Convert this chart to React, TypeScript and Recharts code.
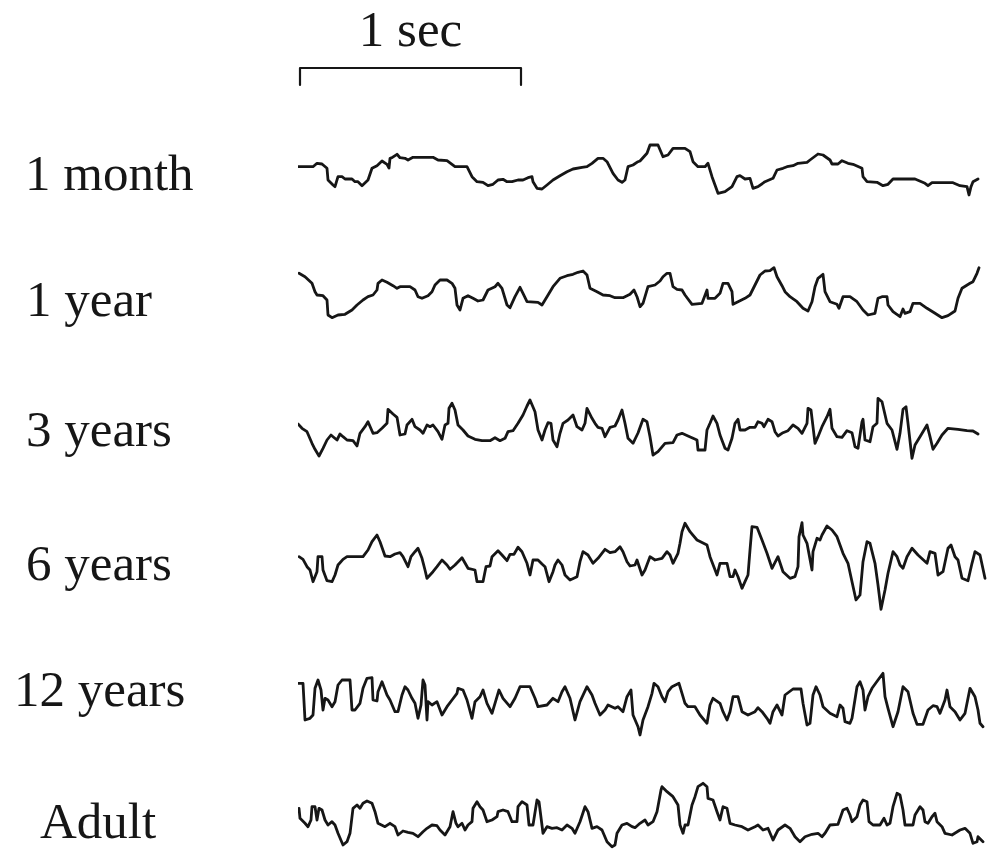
import React from 'react';
import { LineChart, Line, XAxis, YAxis } from 'recharts';

// x in samples (221 samples = 1 s), y in µV-like units, positive up
const SAMPLES_PER_SEC = 221;
const TRACE_SPAN = 689;

type Pt = [number, number];

const month1: Pt[] = [
  [0, 3.3], [15, 3.3], [19, 6.7], [24, 6], [29, 1.7], [30, -10], [35, -15], [37, -16.7], [40, -6.7], [44, -6.7],
  [47, -9], [54, -9], [57, -11.7], [60, -11.7], [64, -15.7], [70, -10], [74, 1.7], [79, 4.3], [84, 9], [89, 5.7],
  [91, 2], [92, 11.7], [94, 12.3], [99, 15.7], [102, 12.3], [107, 11.7], [110, 10], [115, 12.7], [135, 12.7], [140, 10],
  [149, 9.3], [157, 3.3], [169, 3.3], [174, -6.7], [179, -11.7], [185, -12.3], [190, -15.7], [195, -14.3], [200, -10], [205, -9.3],
  [209, -11.7], [214, -11.7], [220, -10], [225, -10], [230, -7.7], [234, -6.7], [235, -11.7], [239, -18.3], [244, -19], [249, -15],
  [255, -10], [262, -5.7], [269, -1.7], [275, 1], [284, 2.7], [289, 3.3], [294, 6.7], [300, 11.7], [305, 11.7], [309, 8.3],
  [315, -3.3], [320, -10], [324, -12.3], [327, -10], [330, 3.3], [335, 5], [340, 8.3], [342, 9], [349, 16.7], [352, 25],
  [360, 25], [365, 13.3], [370, 15], [375, 21.7], [387, 21.7], [392, 18.3], [395, 8.3], [400, 3.3], [407, 3.3], [410, 6.7],
  [414, -6.7], [420, -23.3], [427, -21.7], [434, -16.7], [439, -6.7], [442, -5.7], [447, -9], [452, -8.3], [455, -18.3], [460, -16.7],
  [467, -11.7], [475, -8.3], [479, 0], [485, 1.7], [489, 3.3], [495, 4.3], [500, 6.7], [509, 7.7], [512, 10], [520, 16],
  [525, 15], [532, 10], [534, 6], [540, 6], [544, 9.3], [550, 6.7], [555, 5.7], [564, 1.7], [565, -6.7], [569, -11.7],
  [579, -12.3], [585, -15.7], [590, -14.3], [595, -9], [617, -9], [627, -13.3], [630, -15.7], [634, -12.7], [655, -12.7], [662, -15.7],
  [669, -16.7], [671, -25], [673, -16.7], [675, -11.7], [680, -9],
];

const year1: Pt[] = [
  [1, 18.7], [7, 15.3], [14, 8.7], [17, 0.3], [19, -3], [25, -3.7], [29, -8], [30, -23], [34, -25.7], [40, -23],
  [47, -22.3], [54, -18], [59, -13], [65, -8], [70, -4.7], [75, -3], [79, 2], [80, 8.7], [84, 12], [89, 9.7],
  [95, 6.3], [99, 3.7], [102, 5.3], [112, 5.3], [117, 2], [120, -4.7], [124, -6.3], [130, -3.7], [134, 0.3], [137, 7],
  [142, 12], [149, 12], [154, 8.7], [157, 3.7], [159, -13], [162, -18], [165, -6.3], [170, -3.7], [175, -6.3], [180, -9],
  [185, -8], [190, 2], [197, 5.3], [200, 8.7], [204, 3.7], [209, -13], [212, -15.7], [217, -4.7], [222, 4.7], [225, -1.3],
  [229, -9.7], [240, -10.3], [244, -13], [249, -4.7], [255, 5.3], [262, 13.7], [269, 16.3], [275, 17.7], [280, 19.7], [285, 21],
  [289, 17], [292, 3.7], [299, 0.3], [305, -3], [312, -3.7], [317, -5.7], [325, -5.7], [332, -2.3], [336, 2], [339, -4.7],
  [342, -14.7], [345, -11.3], [350, 5.3], [357, 7], [362, 11], [365, 15.3], [369, 18.7], [372, 18.7], [375, 5.3], [379, 2.7],
  [384, 2], [387, -3], [394, -12.3], [404, -11.3], [409, 2], [410, -6.3], [417, -6.3], [422, -1.3], [425, 8.7], [430, 8.7],
  [434, 0.3], [435, -12.3], [440, -9.7], [447, -6.3], [452, -3], [457, 7], [462, 17], [467, 21], [472, 21.3], [476, 24.3],
  [479, 15.3], [484, 6.3], [487, 0.3], [492, -4.7], [499, -9.7], [505, -16.3], [510, -19], [514, -9.7], [517, 5.3], [520, 13.7],
  [525, 17.7], [527, 0.3], [532, -9.7], [539, -12.3], [541, -16.3], [545, -4.7], [552, -4.7], [559, -9.7], [565, -18], [570, -23],
  [577, -21.3], [580, -6.3], [584, -4.7], [589, -4.7], [590, -13], [595, -19.7], [602, -24.7], [605, -17], [607, -21.3], [612, -19.7],
  [615, -11.3], [622, -11.3], [629, -16.3], [637, -21.3], [644, -25.7], [650, -23.7], [657, -19], [660, -6.3], [664, 3.7], [672, 8.7],
  [675, 10.3], [679, 18.7], [681, 24.3],
];

const years3: Pt[] = [
  [0, 6], [4, 1.7], [9, -1.7], [14, -13.3], [17, -19.3], [21, -26], [25, -18.3], [29, -10], [33, -5], [35, -6.7],
  [39, -10], [42, -4], [45, -6.7], [49, -10], [55, -10.7], [59, -16], [62, -3.3], [67, 3.3], [70, 8.3], [75, -3.3],
  [79, -2.7], [84, 1.7], [89, 6.7], [90, 20.7], [95, 16], [99, 12.7], [102, -5], [107, -4], [109, 5], [114, 10.7],
  [117, 3.3], [122, 0], [125, -3.3], [129, 5], [132, 3.3], [135, 5], [140, -1.7], [144, -9.3], [147, 5], [150, 6.7],
  [151, 21.7], [154, 26.7], [157, 20], [160, 5], [165, 0], [170, -6], [177, -9.3], [184, -10.7], [192, -10.7], [197, -7.7],
  [202, -10.7], [207, -8.3], [210, -1.7], [215, -0.7], [220, 6.7], [225, 15], [229, 24], [232, 30], [237, 18.3], [240, 0],
  [244, -10], [247, 0], [250, 7.3], [253, 6.7], [255, -10], [259, -16.7], [262, -3.3], [265, 6.7], [270, 10], [275, 15],
  [279, 3.3], [284, 0], [287, 6.7], [289, 21.7], [294, 11.7], [297, 6.7], [300, 2.7], [304, 1.7], [307, -6.7], [312, 2.7],
  [317, 4], [320, 10], [324, 20], [327, 6.7], [330, -8.3], [335, -13.3], [340, -3], [345, 10.7], [349, 8.3], [352, -6.7],
  [355, -25], [360, -21.7], [367, -13.3], [375, -12.7], [379, -5], [384, -3.3], [390, -6], [399, -10], [400, -20], [407, -20],
  [409, 0], [412, 6.7], [415, 14], [419, 6.7], [422, -5], [427, -18.3], [430, -20], [434, -8.3], [437, 6.7], [440, 10.7],
  [442, 0], [447, 0], [452, 2.7], [457, 2.7], [460, 8.3], [464, 6.7], [466, 3.3], [470, 10.7], [474, 8.3], [477, -1.7],
  [480, -6], [485, -2.7], [490, -0.7], [495, 5], [500, 1.7], [504, -3.3], [509, 6.7], [510, 21.7], [513, 20], [515, 3.3],
  [517, -13.3], [520, -6.7], [524, 3.3], [529, 13.3], [532, 20.7], [534, 1.7], [539, -6.7], [544, -7.3], [549, -0.7], [554, -2.7],
  [557, -16.7], [560, -18.3], [564, 8.3], [565, 10.7], [567, -10], [572, -11.7], [575, 3.3], [579, 6.7], [580, 31.7], [584, 28.3],
  [589, 6.7], [594, 0], [599, -19.3], [602, -3.3], [605, 20.7], [608, 23.3], [610, 6.7], [614, -28.3], [617, -15], [622, -6.7],
  [629, 5], [632, -6.7], [635, -19.3], [639, -13.3], [644, -5], [650, 1.7], [660, 0.7], [669, -0.7], [675, -1], [680, -4],
];

const years6: Pt[] = [
  [1, 3.3], [5, 0.7], [9, -6.7], [12, -10], [15, -21.7], [19, -11.7], [20, 3.3], [24, 3.3], [25, -10], [29, -20.7],
  [34, -21.7], [37, -15], [40, -5], [45, 0.7], [49, 3.3], [65, 3.3], [70, 10], [74, 18.3], [79, 25], [82, 18.3],
  [87, 4], [92, 3.3], [97, 6], [102, 7.3], [105, 3.3], [110, -6.7], [113, 3.3], [117, 8.3], [120, 11.7], [124, 1.7],
  [127, -10], [129, -18.3], [132, -15], [135, -11.7], [139, -6.7], [144, 0], [149, -5], [152, -9.3], [157, -5], [164, 2.3],
  [170, -8.3], [177, -10], [179, -21.7], [185, -21.7], [188, -6.7], [192, -6], [194, 3.3], [200, 9.3], [204, 5], [209, -0.7],
  [212, 5.7], [216, 5.7], [220, 12.7], [224, 8.3], [229, -3.3], [232, -15], [235, 0], [240, 0], [244, -4], [247, -6.7],
  [251, -21.7], [255, -11.7], [257, -5], [260, 0], [264, -5], [267, -15], [272, -20], [279, -16.7], [282, -1.7], [285, 8.3],
  [290, 5], [295, -3.3], [300, 1.7], [307, 10.7], [312, 7.3], [317, 8.3], [322, 13.3], [325, 8.3], [329, -1.7], [332, -6],
  [337, -5], [339, 0], [344, -15], [347, -10], [352, 3.3], [357, 0], [364, 1.7], [369, 8.3], [372, 5], [375, -3.3],
  [380, 6.7], [382, 16.7], [384, 28.3], [387, 36.7], [392, 28.3], [399, 20], [409, 15], [412, 3.3], [419, -15], [422, -3.3],
  [429, -3.3], [432, -16.7], [435, -16.7], [437, -10], [440, -16.7], [444, -28.3], [447, -21.7], [450, -15], [452, 10], [454, 33.3],
  [459, 32.7], [464, 20], [469, 6.7], [474, -8.3], [480, 3.3], [485, -11.7], [492, -18.3], [497, -16.7], [500, -6.7], [501, 23.3],
  [504, 37.3], [505, 25], [509, 16.7], [514, -10], [515, 8.3], [519, 21.7], [522, 20], [524, 25], [529, 34], [534, 30],
  [539, 23.3], [545, 6.7], [550, -3.3], [554, -21.7], [558, -40], [562, -35], [565, -1.7], [569, 18.3], [572, 16.7], [577, -3.3],
  [580, -25], [583, -49.3], [587, -30], [590, -13.3], [595, 8.3], [599, 3.3], [602, -5], [605, -8.3], [609, 3.3], [614, 11.7],
  [620, 5], [629, -3.3], [632, 8.3], [637, 6.7], [640, -15], [645, -11.7], [650, 11.7], [653, 15], [657, 3.3], [660, 0],
  [664, -18.3], [670, -20.7], [674, -3.3], [677, 8.3], [682, 5], [687, -18.3],
];

const years12: Pt[] = [
  [0, 19.7], [5, 19.7], [7, -17], [12, -15.3], [15, -12], [17, 14.7], [20, 23], [23, 13], [25, -7], [27, 4.7],
  [30, 3], [34, -3.7], [37, 1.3], [40, 18], [44, 23], [52, 23], [54, -7], [57, -7], [62, -0.3], [65, 14.7],
  [69, 24.7], [74, 25.3], [75, 3], [79, 2], [80, 11.3], [84, 21.3], [89, 8], [92, 3], [97, -8.7], [100, -8.7],
  [104, 8], [107, 16.3], [110, 13], [114, 4.7], [117, -0.3], [120, -15.3], [123, -2], [125, 23], [127, 18], [129, -17],
  [130, 1.3], [134, -2], [139, 1.3], [144, -12], [149, -3.7], [154, 3], [159, 9.7], [160, 14.7], [165, 13], [169, 3],
  [174, -15.3], [177, 1.3], [182, 6.3], [185, 13], [189, -0.3], [194, -10.3], [199, 6.3], [201, 13], [205, 4.7], [212, -3.7],
  [217, 4.7], [222, 16.3], [232, 16.3], [237, 4.7], [240, -3.7], [249, -2], [255, 4.7], [260, 1.3], [264, 11.3], [267, 16.3],
  [272, 4.7], [277, -17], [282, 1.3], [289, 16.3], [294, 8], [297, -0.3], [302, -12], [307, -7], [310, -2], [317, -5.3],
  [320, -3.7], [325, -8.7], [329, 6.3], [333, 13], [335, -12], [340, -23.7], [342, -32], [345, -17], [350, -3.7], [354, 9.7],
  [356, 19.7], [360, 16.3], [364, 6.3], [367, 1.3], [370, 11.3], [374, 16.3], [381, 19.7], [387, -0.3], [390, -3.7], [397, -3.7],
  [402, -12], [409, -20.3], [412, -2], [415, 4.7], [422, -0.3], [425, -8.7], [429, -17], [432, -8.7], [435, 6.3], [440, 6.3],
  [444, -8.7], [450, -12], [457, -8.7], [460, -4.7], [464, -8.7], [469, -15.3], [472, -20.3], [475, -8.7], [479, -2], [484, -12],
  [487, 8], [495, 14], [503, 14], [505, -0.3], [509, -22], [512, -20.3], [515, 8], [518, 16.3], [522, 8], [525, -3.7],
  [532, -10.3], [539, -13.7], [542, -2], [545, -5.3], [547, -18.7], [552, -20.3], [554, -15.3], [559, 16.3], [562, 21.3], [565, 13],
  [567, -7], [570, 6.3], [574, 14.7], [580, 23], [585, 29.7], [587, 6.3], [590, -5.3], [595, -23.7], [600, -8.7], [605, 16.3],
  [610, 11.3], [615, -10.3], [619, -21.3], [625, -21.3], [630, -7], [635, -2.7], [639, -3.7], [642, -10.3], [647, 3], [649, 13],
  [652, -3.7], [657, -8.7], [662, -17], [667, -10.3], [672, 14.7], [677, 6.3], [680, -7], [682, -20.3], [685, -23.7],
];

const adult: Pt[] = [
  [1, 11.7], [2, 1.7], [7, -3.3], [10, -6.7], [13, 0], [14, 13.3], [17, 13.3], [19, 0], [21, 11.7], [24, 10],
  [27, 0], [30, -5], [34, -1.7], [37, -5], [40, -13.3], [45, -25], [49, -21.7], [52, -13.3], [55, 11.7], [59, 15],
  [62, 11.7], [65, 16.7], [69, 19], [74, 16.7], [77, 8.3], [80, -3.3], [87, -6.7], [92, -3.3], [97, -6.7], [100, -15],
  [105, -11], [110, -12.3], [115, -13.3], [120, -16.7], [125, -11.7], [129, -8.3], [134, -5], [139, -5.7], [142, -10], [147, -15],
  [152, -6.7], [155, 8.3], [158, -3.3], [160, -6.7], [164, -3.3], [167, -10], [170, -5], [174, -1.7], [175, 11.7], [179, 18.3],
  [182, 13.3], [185, 10], [189, -1.7], [194, 0], [199, 3.3], [200, 8.3], [205, 10], [210, 8.3], [214, -1.7], [219, -1.7],
  [220, 13.3], [224, 18.3], [229, 15], [231, -5], [235, -5], [239, 20], [241, 18.3], [245, -13.3], [249, -6.7], [254, -8.3],
  [259, -7.7], [264, -10], [269, -5], [274, -8.3], [277, -13.3], [282, -1.7], [287, 13.3], [290, 8.3], [294, -8.3], [299, -6.7],
  [304, -10], [309, -21.7], [314, -26.7], [317, -25], [319, -13.3], [324, -5], [329, -3.3], [334, -6.7], [337, -7.7], [342, -3.3],
  [347, 0], [350, -5], [355, -1.7], [359, 8.3], [363, 30], [364, 33.3], [369, 28.3], [375, 23.3], [380, 15], [382, -5],
  [385, -13.3], [387, -5], [390, -5], [394, 15], [397, 23.3], [400, 33.3], [405, 36.7], [409, 33.3], [410, 21.7], [415, 20],
  [419, 8.3], [422, 0], [425, 13.3], [429, 11.7], [432, -3.3], [437, -5], [444, -6.7], [450, -10], [457, -6.7], [460, -5],
  [465, -10], [470, -8.3], [475, -20], [480, -10], [487, -5], [492, -8.3], [497, -16.7], [502, -21.7], [507, -16.7], [514, -14.3],
  [520, -13.3], [524, -16.7], [527, -13.3], [532, -5], [540, -4.3], [545, 10], [549, 11.7], [552, 5], [554, -1.7], [559, 3.3],
  [562, 15], [565, 20], [569, 18.3], [571, -1.7], [575, -5], [582, -5], [586, 1.7], [589, -5], [592, -3.3], [595, 13.3],
  [599, 26.7], [602, 25], [605, 10], [607, -5], [615, -5], [617, 5], [622, 13.3], [625, 10], [627, -1.7], [630, -3.3],
  [634, 3.3], [637, 6.7], [639, -1.7], [644, -6.7], [647, -13.3], [654, -15], [662, -10], [667, -8.3], [672, -13.3], [675, -23.3],
  [679, -21.7], [680, -16.7], [685, -21.7],
];

const ageLabels = ['1 month', '1 year', '3 years', '6 years', '12 years', 'Adult'];
const traces = [month1, year1, years3, years6, years12, adult];

// layout of the rows
const rowCenters = [170, 292, 430, 560, 703, 820];
const labelLefts = [25, 26, 26, 26, 14, 40];
const labelBaselines = [190, 316, 446, 580, 706, 838];
const TRACE_LEFT = 298;
const ROW_H = 120;
const FONT_SIZE = 51;
const INK = '#161616';
const FONT = '"Liberation Serif", "Times New Roman", serif';

const toRows = (pts: Pt[]) => pts.map(([t, v]) => ({ t, v }));

// 1 s calibration bracket, hook ends pointing down
const scaleBar = [
  { t: 2, v: -17 },
  { t: 2, v: 0 },
  { t: 2 + SAMPLES_PER_SEC, v: 0 },
  { t: 2 + SAMPLES_PER_SEC, v: -17 },
];

const Trace: React.FC<{ data: { t: number; v: number }[]; top: number; width?: number }> = ({ data, top, width = 2.8 }) => (
  <div style={{ position: 'absolute', left: TRACE_LEFT, top }}>
    <LineChart width={TRACE_SPAN} height={ROW_H} data={data} margin={{ top: 0, right: 0, bottom: 0, left: 0 }}>
      <XAxis type="number" dataKey="t" domain={[0, TRACE_SPAN]} hide />
      <YAxis type="number" domain={[-ROW_H / 2, ROW_H / 2]} hide />
      <Line
        type="linear"
        dataKey="v"
        stroke={INK}
        strokeWidth={width}
        strokeLinejoin="round"
        strokeLinecap="round"
        dot={false}
        isAnimationActive={false}
      />
    </LineChart>
  </div>
);

// text placed by its baseline
const Caption: React.FC<{ x: number; baseline: number; text: string; center?: boolean }> = ({ x, baseline, text, center }) => (
  <svg
    style={{ position: 'absolute', left: 0, top: 0, overflow: 'visible' }}
    width={1}
    height={1}
  >
    <text
      x={x}
      y={baseline}
      fontFamily={FONT}
      fontSize={FONT_SIZE}
      fill={INK}
      textAnchor={center ? 'middle' : 'start'}
    >
      {text}
    </text>
  </svg>
);

export default function App() {
  return (
    <div
      style={{
        position: 'absolute',
        left: 0,
        top: 0,
        width: 987,
        height: 850,
        overflow: 'hidden',
        background: '#fff',
      }}
    >
      <Caption x={2 + TRACE_LEFT + SAMPLES_PER_SEC / 2} baseline={46} text="1 sec" center />
      <Trace data={scaleBar} top={68 - ROW_H / 2} width={2.2} />

      {traces.map((pts, i) => (
        <React.Fragment key={ageLabels[i]}>
          <Caption x={labelLefts[i]} baseline={labelBaselines[i]} text={ageLabels[i]} />
          <Trace data={toRows(pts)} top={rowCenters[i] - ROW_H / 2} />
        </React.Fragment>
      ))}
    </div>
  );
}
